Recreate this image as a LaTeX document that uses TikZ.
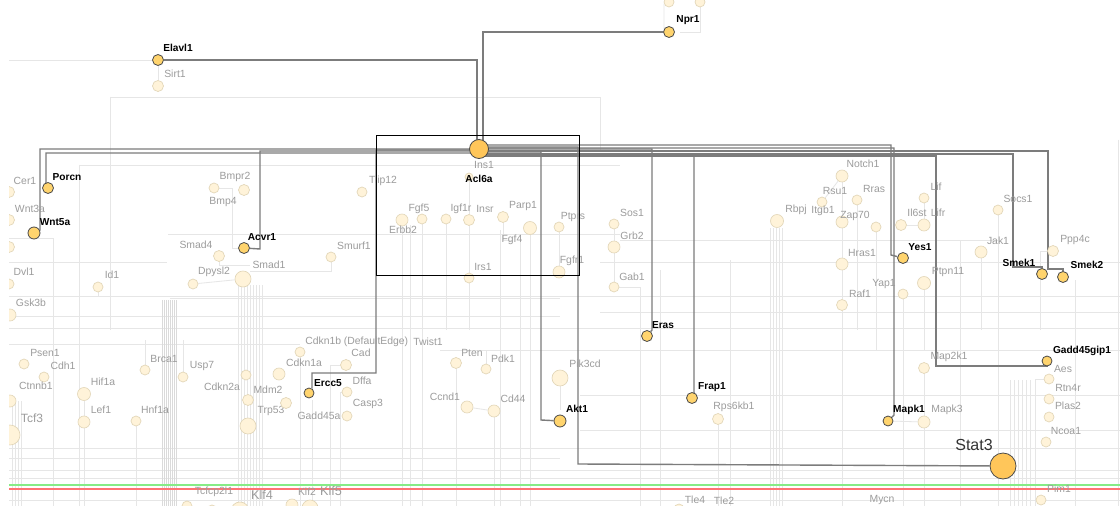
\documentclass[tikz,border=0pt]{standalone}
\usepackage{fontspec}
\newfontfamily\lab{Liberation Sans}
\definecolor{palefill}{HTML}{FFF3D9}
\definecolor{paleborder}{HTML}{E2D6B8}
\definecolor{goldfill}{HTML}{FFD46E}
\definecolor{orangefill}{HTML}{FFC65A}
\definecolor{goldborder}{HTML}{4A4A4A}
\definecolor{labgray}{HTML}{9C9C9C}
\definecolor{edgegray}{HTML}{7C7C7C}
\definecolor{bggray}{HTML}{E6E6E6}
\definecolor{bandgray}{HTML}{DADADA}
\definecolor{greenl}{HTML}{86EC86}
\definecolor{redl}{HTML}{FF7272}
\pgfdeclarelayer{bgl}
\pgfdeclarelayer{edg}
\pgfsetlayers{bgl,edg,main}
\tikzset{
  pale/.style={circle, draw=paleborder, fill=palefill, inner sep=0pt, minimum size=#1*1.5pt, line width=0.5pt},
  pale/.default=5,
  gold/.style={circle, draw=goldborder, fill=goldfill, inner sep=0pt, minimum size=#1*1.5pt, line width=0.6pt},
  gold/.default=5.5,
  hub/.style={circle, draw=goldborder, fill=orangefill, inner sep=0pt, minimum size=#1*1.5pt, line width=0.6pt},
  pl/.style={text=labgray, font=\lab\fontsize{7.8}{9}\selectfont, inner sep=0pt},
  bl/.style={text=black, font=\lab\bfseries\fontsize{7.6}{9}\selectfont, inner sep=0pt},
  hot/.style={draw=edgegray, line width=1.05pt},
  bg/.style={draw=bggray, line width=0.6pt},
  band/.style={draw=bandgray, line width=0.6pt},
}
\begin{document}
\begin{tikzpicture}[x=0.75pt,y=-0.75pt]
\useasboundingbox (0,0) rectangle (1120,506);

% ---------- pale nodes ----------
\node[pale=5.5] (sirt1) at (158,86) {};
\node[pl] (l-sirt1) at (175,74) {Sirt1};
\node[pale] (top1) at (669,2) {};
\node[pale] (top2) at (700,2) {};
\node[pale=5.5] (cer1) at (9,192) {};
\node[pl] (l-cer1) at (25,181) {Cer1};
\node[pale=5.5] (wnt3a) at (9,220) {};
\node[pl] (l-wnt3a) at (30,209) {Wnt3a};
\node[pale=5.5] (anon1) at (9,247) {};
\node[pale] (dvl1) at (9,284) {};
\node[pl] (l-dvl1) at (24,272) {Dvl1};
\node[pale=6] (gsk3b) at (10,315) {};
\node[pl] (l-gsk3b) at (31,303) {Gsk3b};
\node[pale] (id1) at (98,287) {};
\node[pl] (l-id1) at (112,275) {Id1};
\node[pale] (bmpr2) at (214,188) {};
\node[pl] (l-bmpr2) at (235,177) {Bmpr2};
\node[pale=5.5] (bmp4) at (244,190) {};
\node[pl] (l-bmp4) at (223,202) {Bmp4};
\node[pale=5.5] (smad4) at (219,256) {};
\node[pl] (l-smad4) at (196,245) {Smad4};
\node[pale] (dpysl2) at (193,284) {};
\node[pl] (l-dpysl2) at (214,272) {Dpysl2};
\node[pale=8] (smad1) at (243,279) {};
\node[pl] (l-smad1) at (269,265) {Smad1};
\node[pale] (smurf1) at (331,257) {};
\node[pl] (l-smurf1) at (354,246) {Smurf1};
\node[pale] (tiip12) at (362,192) {};
\node[pl] (l-tiip12) at (383,181) {Tiip12};
\node[pale] (psen1) at (24,364) {};
\node[pl] (l-psen1) at (45,353) {Psen1};
\node[pale] (cdh1) at (44,377) {};
\node[pl] (l-cdh1) at (63,366) {Cdh1};
\node[pale=6] (ctnnb1) at (10,401) {};
\node[pl] (l-ctnnb1) at (36,386) {Ctnnb1};
\node[pale=10] (tcf3) at (10,435) {};
\node[pl, font=\lab\fontsize{9}{10}\selectfont] (l-tcf3) at (32,418) {Tcf3};
\node[pale=6.5] (hif1a) at (84,394) {};
\node[pl] (l-hif1a) at (103,382) {Hif1a};
\node[pale=6] (lef1) at (84,422) {};
\node[pl] (l-lef1) at (101,410) {Lef1};
\node[pale] (hnf1a) at (136,421) {};
\node[pl] (l-hnf1a) at (155,410) {Hnf1a};
\node[pale] (brca1) at (145,370) {};
\node[pl] (l-brca1) at (164,359) {Brca1};
\node[pale] (usp7) at (183,377) {};
\node[pl] (l-usp7) at (202,366) {Usp7};
\node[pale] (cdkn2a) at (246,375) {};
\node[pl] (l-cdkn2a) at (222,387) {Cdkn2a};
\node[pale=5.5] (mdm2) at (248,400) {};
\node[pl] (l-mdm2) at (268,390) {Mdm2};
\node[pale=8] (trp53) at (248,426) {};
\node[pl] (l-trp53) at (271,411) {Trp53};
\node[pale=5.5] (gadd45a) at (286,403) {};
\node[pl] (l-gadd45a) at (319,416) {Gadd45a};
\node[pale=6] (cdkn1a) at (279,374) {};
\node[pl] (l-cdkn1a) at (304,363) {Cdkn1a};
\node[pale] (cdkn1b) at (300,352) {};
\node[pl, anchor=west] (l-cdkn1b) at (305,342) {Cdkn1b (DefaultEdge)};
\node[pl] (l-twist1) at (428,342) {Twist1};
\node[pale=5.5] (cad) at (346,365) {};
\node[pl] (l-cad) at (361,353) {Cad};
\node[pale] (dffa) at (347,392) {};
\node[pl] (l-dffa) at (362,381) {Dffa};
\node[pale] (casp3) at (347,416) {};
\node[pl] (l-casp3) at (368,404) {Casp3};
\node[pale=4] (ins1) at (469,177) {};
\node[pl] (l-ins1) at (484,165) {Ins1};
\node[pale=6] (erbb2) at (402,220) {};
\node[pl] (l-erbb2) at (403,230) {Erbb2};
\node[pale] (fgf5) at (422,219) {};
\node[pl] (l-fgf5) at (419,209) {Fgf5};
\node[pale] (igf1r) at (446,219) {};
\node[pl] (l-igf1r) at (461,209) {Igf1r};
\node[pale=5.5] (insr) at (469,220) {};
\node[pl] (l-insr) at (485,209) {Insr};
\node[pale=5.5] (parp1) at (503,217) {};
\node[pl] (l-parp1) at (523,206) {Parp1};
\node[pale=6.5] (fgf4) at (530,228) {};
\node[pl] (l-fgf4) at (512,240) {Fgf4};
\node[pale] (ptprs) at (559,227) {};
\node[pl] (l-ptprs) at (573,217) {Ptprs};
\node[pale] (sos1) at (614,224) {};
\node[pl] (l-sos1) at (632,213) {Sos1};
\node[pale=6] (grb2) at (614,247) {};
\node[pl] (l-grb2) at (632,236) {Grb2};
\node[pale=6] (fgfr1) at (559,272) {};
\node[pl] (l-fgfr1) at (572,261) {Fgfr1};
\node[pale] (irs1) at (469,278) {};
\node[pl] (l-irs1) at (483,267) {Irs1};
\node[pale] (gab1) at (614,287) {};
\node[pl] (l-gab1) at (632,277) {Gab1};
\node[pale=5.5] (pten) at (456,363) {};
\node[pl] (l-pten) at (472,353) {Pten};
\node[pale] (pdk1) at (486,369) {};
\node[pl] (l-pdk1) at (503,359) {Pdk1};
\node[pale=8] (pik3cd) at (560,378) {};
\node[pl] (l-pik3cd) at (585,364) {Pik3cd};
\node[pale=6] (ccnd1) at (467,407) {};
\node[pl] (l-ccnd1) at (445,397) {Ccnd1};
\node[pale=6] (cd44) at (494,411) {};
\node[pl] (l-cd44) at (513,399) {Cd44};
\node[pale=5.5] (rps6kb1) at (718,419) {};
\node[pl] (l-rps6kb1) at (734,407) {Rps6kb1};
\node[pale=6] (notch1) at (842,176) {};
\node[pl] (l-notch1) at (863,164) {Notch1};
\node[pale] (rsu1) at (822,202) {};
\node[pl] (l-rsu1) at (835,191) {Rsu1};
\node[pale] (rras) at (857,200) {};
\node[pl] (l-rras) at (874,189) {Rras};
\node[pale=6.5] (rbpj) at (777,221) {};
\node[pl] (l-rbpj) at (796,210) {Rbpj};
\node[pl] (l-itgb1) at (823,211) {Itgb1};
\node[pale=6] (zap70) at (842,222) {};
\node[pl] (l-zap70) at (855,216) {Zap70};
\node[pale] (itgb1) at (876,227) {};
\node[pale] (lif) at (924,198) {};
\node[pl] (l-lif) at (936,187) {Lif};
\node[pale=5.5] (il6st) at (901,225) {};
\node[pl] (l-il6st) at (917,213) {Il6st};
\node[pale=6] (lifr) at (924,225) {};
\node[pl] (l-lifr) at (938,213) {Lifr};
\node[pale] (socs1) at (998,210) {};
\node[pl] (l-socs1) at (1018,199) {Socs1};
\node[pale=6] (jak1) at (981,252) {};
\node[pl] (l-jak1) at (998,241) {Jak1};
\node[pale=5.5] (ppp4c) at (1053,251) {};
\node[pl] (l-ppp4c) at (1075,240) {Ppp4c};
\node[pale=6] (hras1) at (842,264) {};
\node[pl] (l-hras1) at (862,253) {Hras1};
\node[pale] (yap1) at (903,294) {};
\node[pl] (l-yap1) at (884,284) {Yap1};
\node[pale=6.5] (ptpn11) at (924,283) {};
\node[pl] (l-ptpn11) at (948,272) {Ptpn11};
\node[pale=5.5] (raf1) at (842,305) {};
\node[pl] (l-raf1) at (860,294) {Raf1};
\node[pale=5.5] (map2k1) at (924,368) {};
\node[pl] (l-map2k1) at (949,357) {Map2k1};
\node[pale] (aes) at (1049,379) {};
\node[pl] (l-aes) at (1063,369) {Aes};
\node[pale] (rtn4r) at (1049,399) {};
\node[pl] (l-rtn4r) at (1068,388) {Rtn4r};
\node[pale] (plas2) at (1049,417) {};
\node[pl] (l-plas2) at (1068,406) {Plas2};
\node[pale] (ncoa1) at (1046,442) {};
\node[pl] (l-ncoa1) at (1066,431) {Ncoa1};
\node[pale=6] (mapk3) at (924,422) {};
\node[pl] (l-mapk3) at (947,410) {Mapk3};
\node[pale] (pim1) at (1041,500) {};
\node[pl] (l-pim1) at (1059,489) {Pim1};
\node[pl] (l-mycn) at (882,500) {Mycn};
\node[pale] (tle) at (679,509) {};
\node[pl] (l-tle4) at (695,500) {Tle4};
\node[pl] (l-tle2) at (724,501) {Tle2};
\node[pale] (b1) at (187,506) {};
\node[pale] (b2) at (212,510) {};
\node[pale=9] (klf4) at (240,511) {};
\node[pale=6] (klf2) at (292,505) {};
\node[pale=8] (klf5) at (310,508) {};
\node[pl] (l-tcfcp2l1) at (214,492) {Tcfcp2l1};
\node[pl, font=\lab\fontsize{9.5}{10}\selectfont] (l-klf4) at (262,495) {Klf4};
\node[pl] (l-klf2) at (307,492) {Klf2};
\node[pl, font=\lab\fontsize{9.5}{10}\selectfont] (l-klf5) at (331,491) {Klf5};

% ---------- highlighted nodes ----------
\node[gold] (elavl1) at (158,60) {};
\node[bl] (l-elavl1) at (178,48) {Elavl1};
\node[gold] (npr1) at (669,32) {};
\node[bl] (l-npr1) at (688,20) {Npr1};
\node[gold] (porcn) at (48,188) {};
\node[bl] (l-porcn) at (67,177) {Porcn};
\node[gold=6] (wnt5a) at (34,233) {};
\node[bl] (l-wnt5a) at (55,222) {Wnt5a};
\node[gold] (acvr1) at (244,248) {};
\node[bl] (l-acvr1) at (262,237) {Acvr1};
\node[gold=5] (ercc5) at (309,393) {};
\node[bl] (l-ercc5) at (328,383) {Ercc5};
\node[hub=9.5] (acl) at (479,149) {};
\node[bl] (l-acl) at (479,179) {Acl6a};
\node[gold=6] (akt1) at (560,421) {};
\node[bl] (l-akt1) at (577,409) {Akt1};
\node[gold] (eras) at (647,336) {};
\node[bl] (l-eras) at (663,325) {Eras};
\node[gold] (frap1) at (692,398) {};
\node[bl] (l-frap1) at (712,387) {Frap1};
\node[gold] (yes1) at (903,258) {};
\node[bl] (l-yes1) at (920,247) {Yes1};
\node[gold=5] (mapk1) at (888,421) {};
\node[bl] (l-mapk1) at (909,410) {Mapk1};
\node[gold] (smek1) at (1042,274) {};
\node[bl] (l-smek1) at (1019,263) {Smek1};
\node[gold] (smek2) at (1063,277) {};
\node[bl] (l-smek2) at (1087,265) {Smek2};
\node[gold=5] (gadd) at (1047,361) {};
\node[bl] (l-gadd) at (1082,351) {Gadd45gip1};
\node[hub=13] (stat3) at (1003,466) {};
\node[text=black!80, font=\lab\fontsize{12}{13}\selectfont, inner sep=0pt] (l-stat3) at (974,445) {Stat3};

% selection box
\node[draw=black, line width=1.1pt, inner sep=0pt, minimum width=203*0.75pt, minimum height=140*0.75pt, anchor=north west] (selbox) at (376,135) {};

% ---------- highlighted edges ----------
\begin{pgfonlayer}{edg}
\draw[hot] (elavl1) -- (477,60) -- (477,149) -- (acl.center);
\draw[hot] (npr1) -- (483,32) -- (483,149) -- (acl.center);
\draw[hot] (acl.center) -- (479,149) -- (40,149) -- (40,230) -- (wnt5a);
\draw[hot] (acl.center) -- (479,153) -- (46,153) -- (46,183) -- (porcn);
\draw[hot] (acl.center) -- (479,151) -- (260,151) -- (260,249) -- (acvr1);
\draw[hot] (acl.center) -- (479,150) -- (376,150) -- (376,373) -- (312,373) -- (312,388) -- (ercc5);
\draw[hot] (acl.center) -- (479,152) -- (541,152) -- (541,420) -- (akt1);
\draw[hot] (acl.center) -- (479,147) -- (578,147) -- (578,464) -- (stat3);
\draw[hot] (acl.center) -- (479,149) -- (652,149) -- (652,330) -- (eras);
\draw[hot] (acl.center) -- (479,155) -- (694,155) -- (694,393) -- (frap1);
\draw[hot] (acl.center) -- (479,145) -- (891,145) -- (891,255) -- (yes1);
\draw[hot] (acl.center) -- (479,148) -- (894,148) -- (894,415) -- (mapk1);
\draw[hot] (acl.center) -- (479,156) -- (936,156) -- (936,366) -- (1047,366) -- (gadd);
\draw[hot] (acl.center) -- (479,154) -- (1013,154) -- (1013,267) -- (1042,267) -- (smek1);
\draw[hot] (acl.center) -- (479,151) -- (1048,151) -- (1048,269) -- (1063,269) -- (smek2);
\end{pgfonlayer}

% ---------- background wiring ----------
\begin{pgfonlayer}{bgl}
\fill[white] (0,0) rectangle (1120,506);
\draw[bg] (9,60) -- (elavl1);
\draw[bg] (elavl1) -- (sirt1);
\draw[bg] (110,97) -- (600,97) -- (600,150);
\draw[bg] (110,97) -- (110,330);
\draw[bg] (79,165) -- (620,165);
\draw[bg] (79,165) -- (79,506);
\draw[bg] (9,262) -- (167,262);
\draw[bg] (9,238) -- (53,238) -- (53,506);
\draw[bg] (168,234) -- (620,234);
\draw[bg] (9,296) -- (1120,296);
\draw[bg] (170,298) -- (560,298);
\draw[bg] (9,316) -- (560,316);
\draw[bg] (9,328) -- (1120,328);
\draw[bg] (9,344) -- (300,344);
\draw[bg] (440,350) -- (1120,350);
\draw[bg] (9,448) -- (1120,448);
\draw[bg] (9,458) -- (560,458);
\draw[bg] (9,470) -- (1120,470);
\draw[bg] (9,478) -- (1120,478);
\draw[bg] (9,500) -- (1120,500);
\draw[bg] (600,262) -- (1120,262);
\draw[bg] (620,240) -- (1000,240);
\draw[bg] (600,312) -- (1120,312);
\draw[bg] (580,395) -- (1120,395);
\draw[bg] (580,430) -- (1120,430);
\foreach \x in {162,164,...,176} {\draw[band] (\x,300) -- (\x,506);}
\foreach \x in {238,241,...,262} {\draw[bg] (\x,285) -- (\x,506);}
\foreach \x in {12,15,18,21} {\draw[bg] (\x,401) -- (\x,506);}
\draw[bg] (id1) -- (98,297);
\draw[bg] (bmpr2) -- (232,188) -- (232,248) -- (acvr1);
\draw[bg] (smurf1) -- (331,271) -- (250,271);
\draw[bg] (dpysl2) -- (smad1);
\draw[bg] (smad4) -- (219,265) -- (250,265);
\draw[bg] (cdkn1b) -- (300,506);
\draw[bg] (312,400) -- (312,506);
\draw[bg] (cad) -- (330,365) -- (330,506);
\draw[bg] (dffa) -- (340,392) -- (340,506);
\draw[bg] (hif1a) -- (84,506);
\draw[bg] (hnf1a) -- (136,506);
\draw[bg] (brca1) -- (145,340);
\draw[bg] (usp7) -- (183,340);
\draw[bg] (erbb2) -- (402,506);
\draw[bg] (410,225) -- (410,506);
\draw[bg] (fgf5) -- (422,506);
\draw[bg] (igf1r) -- (446,330);
\draw[bg] (ins1) -- (insr) -- (irs1) -- (469,330);
\draw[bg] (pten) -- (456,506);
\draw[bg] (ccnd1) -- (cd44);
\draw[bg] (cd44) -- (494,506);
\draw[bg] (parp1) -- (503,240) -- (512,240);
\draw[bg] (500,230) -- (500,506);
\draw[bg] (520,235) -- (520,506);
\draw[bg] (fgf4) -- (530,506);
\draw[bg] (ptprs) -- (fgfr1);
\draw[bg] (pik3cd) -- (560,410);
\draw[bg] (pdk1) -- (486,350);
\draw[bg] (sos1) -- (grb2) -- (gab1);
\draw[bg] (gab1) -- (640,287) -- (640,506);
\draw[bg] (660,270) -- (660,506);
\draw[bg] (rps6kb1) -- (718,506);
\draw[bg] (730,260) -- (730,506);
\foreach \x in {770,773,776,779,782} {\draw[bg] (\x,228) -- (\x,506);}
\draw[bg] (notch1) -- (rsu1);
\draw[bg] (notch1) -- (hras1) -- (raf1);
\draw[bg] (raf1) -- (842,506);
\draw[bg] (rras) -- (857,330);
\draw[bg] (itgb1) -- (876,350);
\draw[bg] (il6st) -- (lifr) -- (lif);
\draw[bg] (yap1) -- (903,506);
\draw[bg] (ptpn11) -- (924,350);
\draw[bg] (map2k1) -- (mapk3);
\draw[bg] (mapk3) -- (924,506);
\draw[bg] (mapk1) -- (mapk3);
\draw[bg] (socs1) -- (998,506);
\draw[bg] (jak1) -- (981,330);
\draw[bg] (ppp4c) -- (1040,251) -- (1040,330);
\draw[bg] (960,240) -- (960,506);
\foreach \x in {1010,1014,1018,1022,1026,1030} {\draw[bg] (\x,380) -- (\x,506);}
\draw[bg] (aes) -- (1035,379) -- (1035,506);
\draw[bg] (1118,140) -- (1118,506);
\draw[bg] (1075,280) -- (1075,506);
\draw[bg] (top1) -- (664,4) -- (664,30);
\draw[bg] (top2) -- (700,32) -- (680,32);
\draw[line width=1.3pt, draw=greenl] (9,485) -- (1120,485);
\draw[line width=1.3pt, draw=redl] (9,489) -- (1120,489);
\end{pgfonlayer}

% left margin mask
\fill[white] (0,-5) rectangle (9,515);
\end{tikzpicture}
\end{document}
